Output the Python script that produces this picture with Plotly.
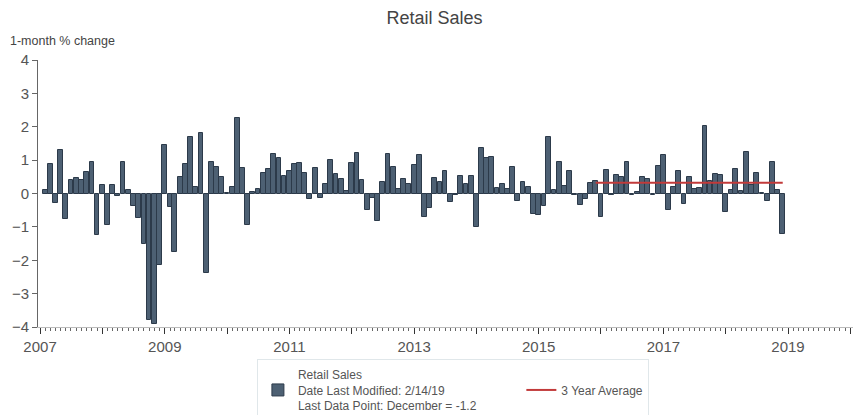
import pandas as pd
import plotly.graph_objects as go

# Variación mensual (%) de ventas minoristas, feb-2007 a dic-2018
meses = pd.date_range("2007-02-01", "2018-12-01", freq="MS")

v2007 = [0.10, 0.87, -0.28, 1.30, -0.75, 0.41, 0.46, 0.40, 0.64, 0.94, -1.23]
v2008 = [0.24, -0.93, 0.24, -0.06, 0.94, 0.10, -0.38, -0.74, -1.50, -3.78, -3.90, -2.15]
v2009 = [1.45, -0.41, -1.76, 0.49, 0.88, 1.69, 0.19, 1.81, -2.37, 0.95, 0.79, 0.49]
v2010 = [0.02, 0.19, 2.26, 0.76, -0.93, 0.04, 0.14, 0.61, 0.73, 1.19, 1.07, 0.53]
v2011 = [0.68, 0.89, 0.92, 0.61, -0.16, 0.76, -0.12, 0.29, 1.00, 0.58, 0.43, 0.08]
v2012 = [0.92, 1.22, 0.41, -0.48, -0.14, -0.81, 0.34, 1.19, 0.80, 0.14, 0.44, 0.29]
v2013 = [0.86, 1.15, -0.70, -0.43, 0.46, 0.34, 0.68, -0.24, -0.04, 0.52, 0.28, 0.52]
v2014 = [-1.00, 1.36, 1.07, 1.09, 0.16, 0.28, 0.13, 0.79, -0.21, 0.34, 0.19, -0.60]
v2015 = [-0.63, -0.36, 1.70, 0.11, 0.95, 0.22, 0.68, -0.03, -0.33, -0.15, 0.31, 0.38]
v2016 = [-0.70, 0.70, -0.03, 0.55, 0.49, 0.95, -0.03, 0.04, 0.49, 0.43, -0.03, 0.82]
v2017 = [1.16, -0.48, 0.19, 0.67, -0.30, 0.49, 0.13, 0.16, 2.03, 0.37, 0.58, 0.54]
v2018 = [-0.54, 0.10, 0.72, 0.09, 1.25, 0.24, 0.61, 0.03, -0.22, 0.95, 0.10, -1.20]

ventas = (v2007 + v2008 + v2009 + v2010 + v2011 + v2012 + v2013 + v2014
          + v2015 + v2016 + v2017 + v2018)

# Promedio de 3 años
prom_fechas = pd.date_range("2015-12-01", "2018-12-01", freq="MS")
prom_valor = 0.32

COLOR_BARRA = "#4d6073"
COLOR_BORDE = "#2c3a4a"
COLOR_PROM = "#c23a3a"
GRIS = "#555555"

# espacios duros al final para separar las dos entradas de la leyenda
nombre_ventas = ("Retail Sales<br>Date Last Modified: 2/14/19<br>"
                 "Last Data Point: December = -1.2" + "&nbsp;" * 12)

fig = go.Figure()
fig.add_trace(go.Bar(
    x=meses, y=ventas, name=nombre_ventas,
    marker=dict(color=COLOR_BARRA, line=dict(color=COLOR_BORDE, width=1)),
))
fig.add_trace(go.Scatter(
    x=prom_fechas, y=[prom_valor] * len(prom_fechas),
    mode="lines", name=" <br>3 Year Average<br> ",
    line=dict(color=COLOR_PROM, width=2),
))

# La página agrega 8px de margen al body: se compensa en tamaño y márgenes
fig.update_layout(
    width=853, height=407,
    plot_bgcolor="white", paper_bgcolor="white",
    font=dict(family="Arial", color=GRIS),
    margin=dict(l=30, r=3, t=52, b=88, autoexpand=False),
    bargap=0,
    title=dict(text="Retail Sales", x=0.5, xanchor="center", y=0.975, yanchor="middle",
               font=dict(size=18, color="#444444")),
    showlegend=True,
    legend=dict(
        orientation="h", x=0.506, xanchor="center", y=-0.12, yanchor="top",
        bordercolor="#e0e7ea", borderwidth=1, font=dict(size=12, color=GRIS),
        valign="middle", tracegroupgap=0,
    ),
    xaxis=dict(
        type="date",
        range=["2006-12-20", "2020-02-15"],
        tickmode="linear", tick0="2007-01-01", dtick="M12", ticklabelstep=2,
        tickformat="%Y", ticks="outside", ticklen=6, tickcolor="#333333",
        tickfont=dict(size=15, color=GRIS),
        minor=dict(dtick="M1", tick0="2007-01-01", ticks="outside", ticklen=3,
                   tickcolor="#666666"),
        showline=True, linecolor="#bbbbbb", linewidth=1,
        showgrid=False, zeroline=False, automargin=False,
    ),
    yaxis=dict(
        range=[-4, 4], dtick=1, ticks="outside", ticklen=5, tickcolor="#666666",
        tickfont=dict(size=15, color=GRIS),
        showline=True, linecolor="#666666", linewidth=1,
        showgrid=False, zeroline=False, automargin=False,
    ),
    annotations=[dict(
        text="1-month % change", xref="paper", yref="paper",
        x=-0.036, y=1.0, xanchor="left", yanchor="bottom", yshift=10,
        showarrow=False, font=dict(size=12.5, color="#444444"),
    )],
)

fig.write_html("out.html")
